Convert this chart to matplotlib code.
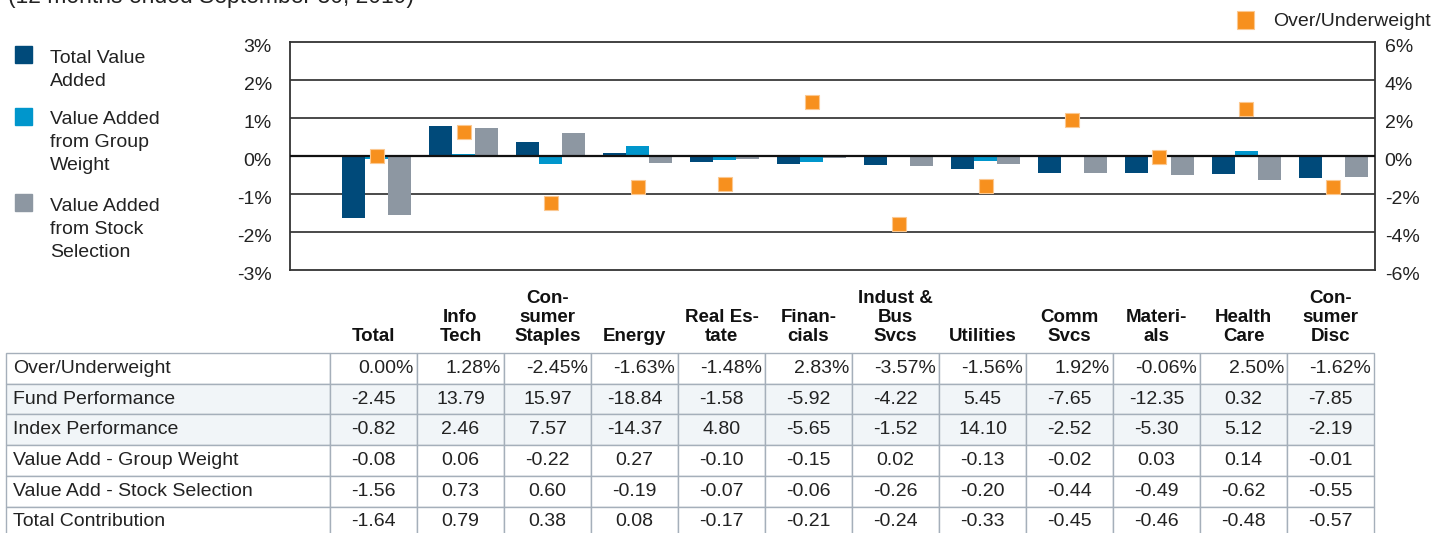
import numpy as np
import matplotlib
matplotlib.use('Agg')
import matplotlib.pyplot as plt
from matplotlib.patches import Rectangle
from matplotlib.transforms import ScaledTranslation

plt.rcParams['font.family'] = ['Liberation Sans', 'DejaVu Sans']

# data
sectors = ['Total', 'Info\nTech', 'Con-\nsumer\nStaples', 'Energy', 'Real Es-\ntate',
           'Finan-\ncials', 'Indust &\nBus\nSvcs', 'Utilities', 'Comm\nSvcs',
           'Materi-\nals', 'Health\nCare', 'Con-\nsumer\nDisc']
over_under = [0.00, 1.28, -2.45, -1.63, -1.48, 2.83, -3.57, -1.56, 1.92, -0.06, 2.50, -1.62]
fund_perf = [-2.45, 13.79, 15.97, -18.84, -1.58, -5.92, -4.22, 5.45, -7.65, -12.35, 0.32, -7.85]
index_perf = [-0.82, 2.46, 7.57, -14.37, 4.80, -5.65, -1.52, 14.10, -2.52, -5.30, 5.12, -2.19]
group_weight = [-0.08, 0.06, -0.22, 0.27, -0.10, -0.15, 0.02, -0.13, -0.02, 0.03, 0.14, -0.01]
stock_sel = [-1.56, 0.73, 0.60, -0.19, -0.07, -0.06, -0.26, -0.20, -0.44, -0.49, -0.62, -0.55]
total_contrib = [-1.64, 0.79, 0.38, 0.08, -0.17, -0.21, -0.24, -0.33, -0.45, -0.46, -0.48, -0.57]

row_labels = ['Over/Underweight', 'Fund Performance', 'Index Performance',
              'Value Add - Group Weight', 'Value Add - Stock Selection', 'Total Contribution']
left_ticks = [-3, -2, -1, 0, 1, 2, 3]
right_ticks = [-6, -4, -2, 0, 2, 4, 6]

navy = '#004a7a'
blue = '#0096cc'
gray = '#8d97a2'
orange = '#f7901e'
txt = '#222222'
fs = 14

W, H = 1440, 533
fig = plt.figure(figsize=(W / 100, H / 100), dpi=100)

# overlay axes in pixel units for legend / table layout
lay = fig.add_axes([0, 0, 1, 1])
lay.set_xlim(0, W)
lay.set_ylim(H, 0)
lay.axis('off')

# chart
px_l, px_r, px_t, px_b = 290, 1375, 42, 270
ax = fig.add_axes([px_l / W, 1 - px_b / H, (px_r - px_l) / W, (px_b - px_t) / H])
x = np.arange(len(sectors))
w = 0.265
ax.bar(x - w, total_contrib, w, color=navy, zorder=2)
ax.bar(x, group_weight, w, color=blue, zorder=2)
ax.bar(x + w, stock_sel, w, color=gray, zorder=2)
ax.set_xlim(-1.0, 11.48)
ax.set_ylim(-3, 3)
ax.set_xticks([])
ax.set_yticks(left_ticks)
ax.set_yticklabels([f'{t}%' for t in left_ticks], fontsize=fs, color=txt)
for t in left_ticks:
    if t not in (-3, 3, 0):
        ax.axhline(t, color='#2a2a2a', lw=1.2, zorder=1)
ax.axhline(0, color='#111111', lw=1.6, zorder=3)
for s in ax.spines.values():
    s.set_color('#333333')
    s.set_linewidth(1.3)
ax.tick_params(axis='y', length=0, pad=13)

ax2 = ax.twinx()
ax2.plot(x, over_under, 's', color=orange, markersize=10.5,
         markeredgecolor='#fbc891', markeredgewidth=0.8, zorder=5)
ax2.set_ylim(-6, 6)
ax2.set_yticks(right_ticks)
ax2.set_yticklabels([f'{t}%' for t in right_ticks], fontsize=fs, color=txt)
ax2.tick_params(axis='y', length=0, pad=7)
for s in ax2.spines.values():
    s.set_visible(False)

off = ScaledTranslation(0, -0.04, fig.dpi_scale_trans)
for lab in ax.get_yticklabels() + ax2.get_yticklabels():
    lab.set_transform(lab.get_transform() + off)

# subtitle, cut off at the top edge as in the source
lay.text(8, 3, '(12 months ended September 30, 2019)', fontsize=16.5, color=txt,
         va='baseline', ha='left')

# left legend (y of square top, y of last text baseline)
legend_items = [(navy, 'Total Value\nAdded', 46, 86),
                (blue, 'Value Added\nfrom Group\nWeight', 108, 170),
                (gray, 'Value Added\nfrom Stock\nSelection', 194, 257)]
for col, label, ytop, ybase in legend_items:
    lay.add_patch(Rectangle((15, ytop), 17, 17, color=col))
    lay.text(50, ybase, label, fontsize=fs, color=txt, va='baseline', ha='left',
             linespacing=1.47)

# right legend
lay.add_patch(Rectangle((1237, 11), 17, 18, facecolor=orange, edgecolor='#fbc891', lw=0.8))
lay.text(1273, 21, 'Over/Underweight', fontsize=fs, color=txt, va='center', ha='left')

# table
tx0, tlab, cw = 6, 330, 87
ty0, rh = 353, 30.7
rows = [over_under, fund_perf, index_perf, group_weight, stock_sel, total_contrib]
border = '#a5afba'
shade = '#f1f5f8'
for j, name in enumerate(sectors):
    cx = tlab + cw * (j + 0.5)
    lay.text(cx, ty0 - 8, name, fontsize=13.5, fontweight='bold', color='#111111',
             ha='center', va='bottom', multialignment='center', linespacing=1.15)
for i, (label, vals) in enumerate(zip(row_labels, rows)):
    y0 = ty0 + rh * i
    fc = shade if i in (1, 2) else 'white'
    lay.add_patch(Rectangle((tx0, y0), tlab - tx0, rh, facecolor=fc, edgecolor=border, lw=1))
    lay.text(tx0 + 7, y0 + rh / 2, label, fontsize=fs, color=txt, ha='left', va='center')
    for j, v in enumerate(vals):
        cx0 = tlab + cw * j
        lay.add_patch(Rectangle((cx0, y0), cw, rh, facecolor=fc, edgecolor=border, lw=1))
        if i == 0:
            lay.text(cx0 + cw - 3, y0 + rh / 2, f'{v:.2f}%', fontsize=fs, color=txt,
                     ha='right', va='center')
        else:
            lay.text(cx0 + cw / 2, y0 + rh / 2, f'{v:.2f}', fontsize=fs, color=txt,
                     ha='center', va='center')

fig.savefig('out.png', dpi=100)
